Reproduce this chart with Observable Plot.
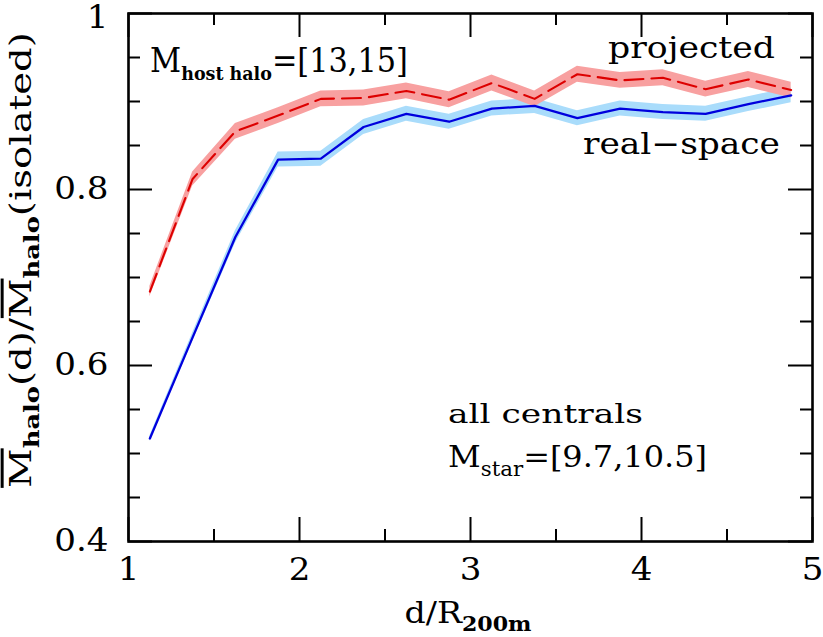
<!DOCTYPE html>
<html><head><meta charset="utf-8">
<script src="https://cdn.jsdelivr.net/npm/d3@7"></script>
<script src="https://cdn.jsdelivr.net/npm/@observablehq/plot@0.6"></script>
<style>body{margin:0;background:#fff} svg{display:block}</style>
</head><body><div id="chart"></div>
<script>
const distance = [1.125,1.375,1.625,1.875,2.125,2.375,2.625,2.875,3.125,3.375,3.625,3.875,4.125,4.375,4.625,4.875];
const projected = [0.684,0.812,0.866,0.884,0.903,0.904,0.912,0.902,0.921,0.903,0.931,0.924,0.927,0.914,0.925,0.913];
const projectedErr = [0.006,0.008,0.009,0.009,0.009,0.009,0.009,0.009,0.009,0.009,0.009,0.009,0.009,0.009,0.009,0.009];
const realSpace = [0.517,0.632,0.746,0.834,0.835,0.871,0.886,0.877,0.892,0.895,0.881,0.892,0.888,0.886,0.897,0.907];
const realSpaceErr = [0.003,0.005,0.007,0.0085,0.0085,0.0085,0.0085,0.0085,0.0085,0.0085,0.0085,0.0085,0.0085,0.0085,0.0085,0.0085];
const xMajorTicks = [1,2,3,4,5];
const xMinorTicks = [1.5,2.5,3.5,4.5];
const xTickLabels = ["1","2","3","4","5"];
const yMajorTicks = [0.4,0.6,0.8,1];
const yMinorTicks = [0.45,0.5,0.55,0.65,0.7,0.75,0.85,0.9,0.95];
const yTickLabels = ["0.4","0.6","0.8","1"];

const W = 823, H = 637, mL = 128, mR = 11, mT = 13, mB = 96;
const innerW = W - mL - mR, innerH = H - mT - mB;
const majorLen = 24, minorLen = 12;

const proj = distance.map((x, i) => ({x, y: projected[i], lo: projected[i] - projectedErr[i], hi: projected[i] + projectedErr[i]}));
const real = distance.map((x, i) => ({x, y: realSpace[i], lo: realSpace[i] - realSpaceErr[i], hi: realSpace[i] + realSpaceErr[i]}));

const font = "DejaVu Serif";
const plot = Plot.plot({
  width: W, height: H,
  marginLeft: mL, marginRight: mR, marginTop: mT, marginBottom: mB,
  style: {fontFamily: font, background: "#fff", color: "#000"},
  x: {domain: [1, 5]},
  y: {domain: [0.4, 1]},
  marks: [
    Plot.areaY(real, {x: "x", y1: "lo", y2: "hi", fill: "#a9dcfb"}),
    Plot.areaY(proj, {x: "x", y1: "lo", y2: "hi", fill: "#f8a0a0"}),
    Plot.line(real, {x: "x", y: "y", stroke: "#0000dd", strokeWidth: 2.3}),
    Plot.line(proj, {x: "x", y: "y", stroke: "#dd0000", strokeWidth: 2.1, strokeDasharray: "19,8"}),
    Plot.tickX(xMajorTicks, {x: d => d, insetTop: innerH - majorLen, stroke: "#000", strokeWidth: 2}),
    Plot.tickX(xMajorTicks, {x: d => d, insetBottom: innerH - majorLen, stroke: "#000", strokeWidth: 2}),
    Plot.tickX(xMinorTicks, {x: d => d, insetTop: innerH - minorLen, stroke: "#000", strokeWidth: 2}),
    Plot.tickX(xMinorTicks, {x: d => d, insetBottom: innerH - minorLen, stroke: "#000", strokeWidth: 2}),
    Plot.tickY(yMajorTicks, {y: d => d, insetRight: innerW - majorLen, stroke: "#000", strokeWidth: 2}),
    Plot.tickY(yMajorTicks, {y: d => d, insetLeft: innerW - majorLen, stroke: "#000", strokeWidth: 2}),
    Plot.tickY(yMinorTicks, {y: d => d, insetRight: innerW - minorLen, stroke: "#000", strokeWidth: 2}),
    Plot.tickY(yMinorTicks, {y: d => d, insetLeft: innerW - minorLen, stroke: "#000", strokeWidth: 2}),
    Plot.axisX(xMajorTicks, {tickSize: 0, tickPadding: 16, fontSize: 31, tickFormat: (d, i) => xTickLabels[i], label: null}),
    Plot.axisY(yMajorTicks, {tickSize: 0, tickPadding: 20, fontSize: 31, tickFormat: (d, i) => yTickLabels[i], label: null}),
    Plot.frame({stroke: "#000", strokeWidth: 2.6})
  ]
});
document.getElementById("chart").appendChild(plot);

const svg = d3.select(plot);
// slightly widen tick-label glyphs to mimic the reference's wide font
svg.selectAll("g[aria-label='y-axis tick label'] text, g[aria-label='x-axis tick label'] text").each(function() {
  const t = this.getAttribute("transform") || "";
  this.setAttribute("transform", t + " scale(1.1,1)");
});
// keep the top "1" label inside the picture, as in the reference
svg.selectAll("g[aria-label='y-axis tick label'] text").filter(function() { return this.textContent === "1"; })
  .each(function() { this.setAttribute("transform", this.getAttribute("transform") + " translate(0,5)"); });

function richText(g, parts, size) {
  const t = g.append("text").attr("x", 0).attr("y", 0)
    .attr("font-family", font).attr("font-size", size).attr("fill", "#000");
  let shift = 0;
  for (const p of parts) {
    const s = t.append("tspan").text(p.t);
    if (p.sub) {
      s.attr("font-size", p.size).attr("dy", p.dy - shift);
      if (p.bold) s.attr("font-weight", "bold");
      shift = p.dy;
    } else if (shift) { s.attr("dy", -shift); shift = 0; }
    if (p.over) s.attr("text-decoration", "overline");
  }
  return t;
}

const g = svg.append("g");
function label(parts, {x, y, size, anchor, width, rotate}) {
  const outer = g.append("g");
  const inner = outer.append("g");
  const t = richText(inner, parts, size);
  const bb = t.node().getBBox();
  const k = width / bb.width;
  const off = anchor === "end" ? bb.width : anchor === "middle" ? bb.width / 2 : 0;
  inner.attr("transform", `scale(${k},1) translate(${-bb.x - off},0)`);
  outer.attr("transform", `translate(${x},${y})` + (rotate ? " rotate(-90)" : ""));
}

// axis labels
label([
  {t: "M", over: true}, {t: "halo", sub: true, bold: true, size: 20, dy: 8}, {t: "(d)/"},
  {t: "M", over: true}, {t: "halo", sub: true, bold: true, size: 20, dy: 8}, {t: "(isolated)"}
], {x: 31, y: 260, size: 30, anchor: "middle", width: 456, rotate: true});
label([{t: "d/R"}, {t: "200m", sub: true, bold: true, size: 20, dy: 8}],
  {x: 468, y: 623, size: 30, anchor: "middle", width: 127});

// annotations
label([{t: "M"}, {t: "host halo", sub: true, bold: true, size: 19, dy: 8}, {t: "=[13,15]"}],
  {x: 150, y: 72, size: 33, anchor: "start", width: 258});
label([{t: "projected"}], {x: 775, y: 58, size: 30, anchor: "end", width: 167});
label([{t: "real\u2212space"}], {x: 780, y: 154, size: 30, anchor: "end", width: 197});
label([{t: "all centrals"}], {x: 448, y: 423, size: 26, anchor: "start", width: 195});
label([{t: "M"}, {t: "star", sub: true, size: 20, dy: 9}, {t: "=[9.7,10.5]"}],
  {x: 448, y: 467, size: 30, anchor: "start", width: 259});
</script>
</body></html>
